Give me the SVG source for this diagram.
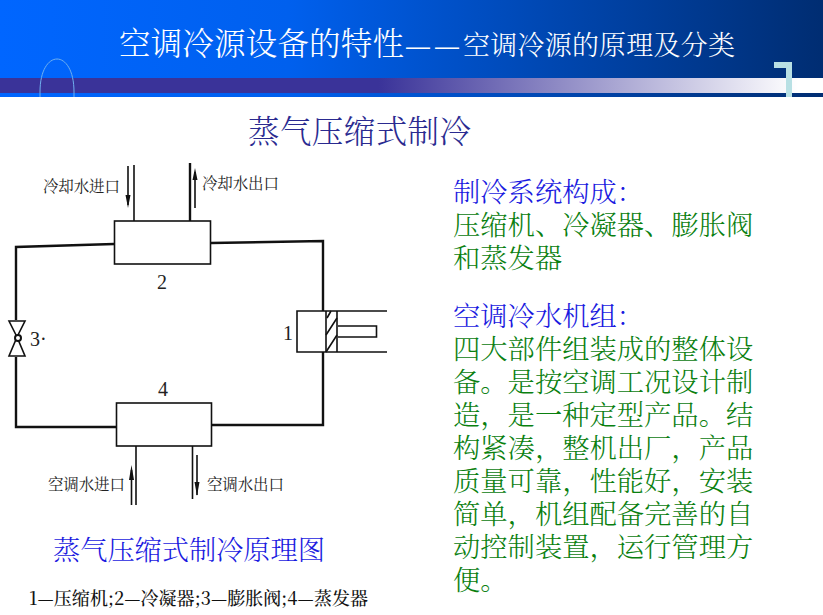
<svg xmlns="http://www.w3.org/2000/svg" width="823" height="615" viewBox="0 0 823 615">
<defs>
<linearGradient id="bg" x1="0" x2="1" y1="0" y2="0"><stop offset="0" stop-color="#0066ff"/><stop offset="0.35" stop-color="#0060ee"/><stop offset="1" stop-color="#002d72"/></linearGradient>
<linearGradient id="band" x1="0" x2="1" y1="0" y2="0"><stop offset="0" stop-color="#3a3399"/><stop offset="0.46" stop-color="#3a3399"/><stop offset="0.97" stop-color="#ffffff"/><stop offset="1" stop-color="#ffffff"/></linearGradient>
<style>
.cn{font-family:"Noto Serif CJK SC","Noto Sans CJK SC","Liberation Serif",serif}
.k{fill:#222;font-size:15.500px}
.n{fill:#222;font-size:20px;font-family:"Liberation Serif",serif}
.g{fill:#0a800f;font-size:27.300px;font-weight:300}
.b{fill:#1a1ae0;font-size:27.300px;font-weight:300}
.l{fill:none;stroke:#111;stroke-width:1.6}
.t{fill:none;stroke:#111;stroke-width:2.4}
.a{fill:#111;stroke:none}
</style>
</defs>
<rect width="823" height="615" fill="#fff"/>
<g id="header">
<rect width="823" height="97" fill="url(#bg)"/>
<rect y="78" width="823" height="15" fill="url(#band)"/>
<path d="M40 97V92C40 48 74 48 74 92V97" fill="none" stroke="#6fb0f0" stroke-width="1"/>
<path d="M774 62H792V97H786V68H774Z" fill="#b8e0e4"/>
<text x="119" y="55" class="cn" font-size="31.500" font-weight="300" fill="#fff" textLength="285">空调冷源设备的特性</text>
<text x="406" y="54" font-family="Liberation Sans,sans-serif" font-size="24" letter-spacing="5" fill="#fff">——</text>
<text x="463" y="55" class="cn" font-size="27" font-weight="300" fill="#fff" textLength="272">空调冷源的原理及分类</text>
</g>
<text id="title" x="248" y="143" class="cn" font-size="31.500" font-weight="300" fill="#2a2a90" textLength="223">蒸气压缩式制冷</text>
<g id="connectors">
<path class="t" d="M114 244L16 247V320M16 357V427H116M211 243L323 241V311M323 352V425H212"/>
<path class="l" d="M134 165V221M136 446V505M192.500 446V499"/>
<path class="t" d="M190 163V221"/>
<path class="l" d="M128 166V205M195 172V208M131.500 470V505M197 455V495"/>
<path class="a" d="M125.500 195H130.500L128 208ZM192.500 180H197.500L195 168ZM129 480H134L131.500 465ZM194.500 482H199.500L197 496Z"/>
</g>
<g id="node-2"><rect class="l" x="114.500" y="221" width="96" height="43" fill="#fff"/><text x="157" y="289" class="n">2</text></g>
<g id="node-3">
<path class="l" d="M9 321H25L17 337L25 356H9L17 337Z" fill="#fff"/>
<circle cx="18" cy="338" r="3" fill="#fff" stroke="#111" stroke-width="2"/>
<text x="30" y="346" class="n">3·</text>
</g>
<g id="node-1">
<path class="l" d="M387 311H297V352H387M326 311V352M337 311V352M338 326H376.500V337H338"/>
<path class="l" d="M326 352L337 335M326 335L337 318M327 318L331 311"/>
<text x="283" y="340" class="n">1</text>
</g>
<g id="node-4"><rect class="l" x="116.500" y="403" width="95" height="43" fill="#fff"/><text x="158" y="396" class="n">4</text></g>
<g id="labels">
<text x="43" y="192" class="cn k" textLength="77">冷却水进口</text>
<text x="202" y="189" class="cn k" textLength="77">冷却水出口</text>
<text x="48" y="490" class="cn k" textLength="77">空调水进口</text>
<text x="207" y="490" class="cn k" textLength="77">空调水出口</text>
<text x="53" y="560" class="cn b" textLength="272">蒸气压缩式制冷原理图</text>
<text x="29" y="605" class="cn" font-size="18" font-weight="500" fill="#111" textLength="339">1—压缩机;2—冷凝器;3—膨胀阀;4—蒸发器</text>
</g>
<g id="text-right" class="cn">
<text class="g"><tspan x="453" y="202" class="b">制冷系统构成：</tspan><tspan x="453" y="235">压缩机、冷凝器、膨胀阀</tspan><tspan x="453" y="268">和蒸发器</tspan></text>
<text class="g"><tspan x="453" y="326" class="b">空调冷水机组：</tspan><tspan x="453" y="359">四大部件组装成的整体设</tspan><tspan x="453" y="392">备。是按空调工况设计制</tspan><tspan x="453" y="425">造，是一种定型产品。结</tspan><tspan x="453" y="458">构紧凑，整机出厂，产品</tspan><tspan x="453" y="491">质量可靠，性能好，安装</tspan><tspan x="453" y="524">简单，机组配备完善的自</tspan><tspan x="453" y="557">动控制装置，运行管理方</tspan><tspan x="453" y="590">便。</tspan></text>
</g>
</svg>
